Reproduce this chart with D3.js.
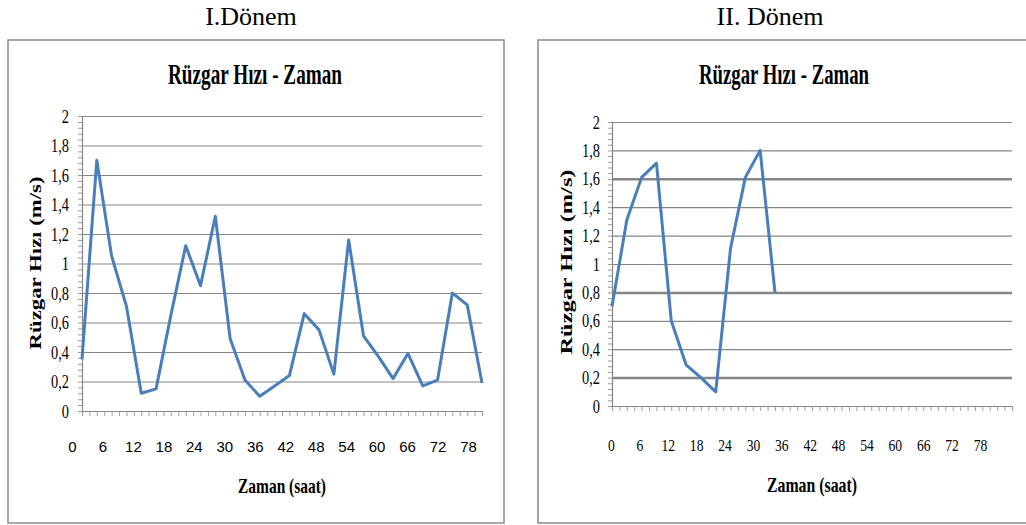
<!DOCTYPE html>
<html><head><meta charset="utf-8">
<script src="https://cdn.jsdelivr.net/npm/d3@7"></script>
<style>body{margin:0;background:#fff}svg{display:block}</style>
</head><body>
<svg id="c" width="1026" height="525"></svg>
<script>
const periodTitles = ["I.Dönem", "II. Dönem"];
const chartTitle = "Rüzgar Hızı - Zaman";
const yAxisTitle = "Rüzgar Hızı (m/s)";
const xAxisTitle = "Zaman (saat)";

const hoursI = [0,3,6,9,12,15,18,21,24,27,30,33,36,39,42,45,48,51,54,57,60,63,66,69,72,75,78,81];
const speedI = [0.35,1.70,1.05,0.71,0.12,0.15,0.65,1.12,0.85,1.32,0.49,0.21,0.10,0.17,0.24,0.66,0.55,0.25,1.16,0.51,0.37,0.22,0.39,0.17,0.21,0.80,0.72,0.19];

const hoursII = [0,3,6,9,12,15,18,21,24,27,30,33];
const speedII = [0.70,1.31,1.61,1.71,0.60,0.29,0.20,0.10,1.11,1.61,1.80,0.80];

const xTickLabels = [0,6,12,18,24,30,36,42,48,54,60,66,72,78];
const yTickValues = [0,0.2,0.4,0.6,0.8,1,1.2,1.4,1.6,1.8,2];

const svg = d3.select("#c");
const lineColor = "#4A7EBB";
const gridColor = "#868686";
const serif = "'Liberation Serif','Times New Roman',Times,serif";

const panels = [
  {period: periodTitles[0], pcx: 251, box:{x:8,y:40,w:496,h:483},
   plot:{l:82,t:116,r:482,b:411}, titleCx:255, titleLen:174,
   yLab:{cx:35,cy:263,len:173}, yTickRight:69,
   xLabRange:[72,468], xLabY:452, xLabFont:"'Liberation Sans Narrow','Arial Narrow',sans-serif", xLabSize:15, xLabScale:1,
   xTitleCx:282, xTitleY:493, xTitleLen:88,
   hours: hoursI, speed: speedI, thick: []},
  {period: periodTitles[1], pcx: 770, box:{x:538,y:40,w:520,h:483},
   plot:{l:612,t:122,r:1012,b:406}, titleCx:784, titleLen:170,
   yLab:{cx:566,cy:262,len:185}, yTickRight:600,
   xLabRange:[611,980], xLabY:451, xLabFont:serif, xLabSize:17, xLabScale:0.8,
   xTitleCx:812, xTitleY:492, xTitleLen:90,
   hours: hoursII, speed: speedII, thick: [0.2,0.8,1.6]}
];

panels.forEach(p => {
  const g = svg.append("g");
  g.append("text").attr("x", p.pcx).attr("y", 25).attr("text-anchor","middle")
    .attr("font-family",serif).attr("font-size",26)
    .attr("fill","#000").text(p.period);
  g.append("rect").attr("x",p.box.x).attr("y",p.box.y).attr("width",p.box.w).attr("height",p.box.h)
    .attr("fill","#fff").attr("stroke","#8a8a8a").attr("stroke-width",1.5);
  g.append("text").attr("x",p.titleCx).attr("y",84).attr("text-anchor","middle")
    .attr("font-family",serif).attr("font-weight","bold")
    .attr("font-size",30).attr("textLength",p.titleLen).attr("lengthAdjust","spacingAndGlyphs")
    .text(chartTitle);

  const x = d3.scaleLinear().domain([0,81]).range([p.plot.l,p.plot.r]);
  const y = d3.scaleLinear().domain([0,2]).range([p.plot.b,p.plot.t]);

  const grid = g.append("g").attr("transform",`translate(${p.plot.l},0)`)
    .call(d3.axisLeft(y).tickValues(yTickValues.slice(1)).tickSize(-(p.plot.r-p.plot.l)).tickFormat(""));
  grid.select(".domain").remove();
  grid.selectAll(".tick line").attr("stroke",gridColor)
    .attr("stroke-width", d => p.thick.some(t => Math.abs(t-d)<1e-9) ? 2.5 : 1.2);

  const yMinor = g.append("g").attr("transform",`translate(${p.plot.l},0)`)
    .call(d3.axisLeft(y).tickValues(d3.range(0,2.001,0.04)).tickSize(4).tickFormat(""));
  yMinor.select(".domain").attr("stroke",gridColor).attr("stroke-width",1.2);
  yMinor.selectAll(".tick line").attr("stroke","#9a9a9a");

  const sc = 0.8;
  const yAx = g.append("g").attr("transform",`translate(${p.yTickRight},0)`)
    .call(d3.axisLeft(y).tickValues(yTickValues).tickSize(0).tickPadding(0)
      .tickFormat(d => d3.format("~g")(d).replace(".",",")));
  yAx.select(".domain").remove();
  yAx.selectAll(".tick text").attr("x",0).attr("dy","0.34em")
    .attr("transform",`scale(${sc},1)`)
    .attr("font-family",serif).attr("font-size",18).attr("fill","#000");

  const xMinor = g.append("g").attr("transform",`translate(0,${p.plot.b})`)
    .call(d3.axisBottom(x).tickValues(d3.range(0,81.001,1.5)).tickSize(5).tickFormat(""));
  xMinor.select(".domain").attr("stroke",gridColor).attr("stroke-width",1.2);
  xMinor.selectAll(".tick line").attr("stroke","#a0a0a0");

  const xl = d3.scalePoint().domain(xTickLabels).range(p.xLabRange);
  const xAx = g.append("g").attr("transform",`translate(0,${p.xLabY})`)
    .call(d3.axisBottom(xl).tickSize(0).tickPadding(0));
  xAx.select(".domain").remove();
  xAx.selectAll(".tick text").attr("y",0).attr("dy",0)
    .attr("transform",`scale(${p.xLabScale},1)`)
    .attr("font-family",p.xLabFont).attr("font-size",p.xLabSize).attr("fill","#000");

  g.append("text").attr("transform",`translate(${p.yLab.cx+6},${p.yLab.cy}) rotate(-90)`)
    .attr("text-anchor","middle").attr("font-family",serif)
    .attr("font-weight","bold").attr("font-size",17).attr("textLength",p.yLab.len)
    .attr("lengthAdjust","spacingAndGlyphs").text(yAxisTitle);
  g.append("text").attr("x",p.xTitleCx).attr("y",p.xTitleY).attr("text-anchor","middle")
    .attr("font-family",serif).attr("font-weight","bold")
    .attr("font-size",22).attr("textLength",p.xTitleLen).attr("lengthAdjust","spacingAndGlyphs")
    .text(xAxisTitle);

  const pts = p.hours.map((h,i) => [h, p.speed[i]]);
  g.append("path").datum(pts)
    .attr("d", d3.line().x(d => x(d[0])).y(d => y(d[1])))
    .attr("fill","none").attr("stroke",lineColor).attr("stroke-width",3).attr("stroke-linejoin","round");
});
</script>
</body></html>
